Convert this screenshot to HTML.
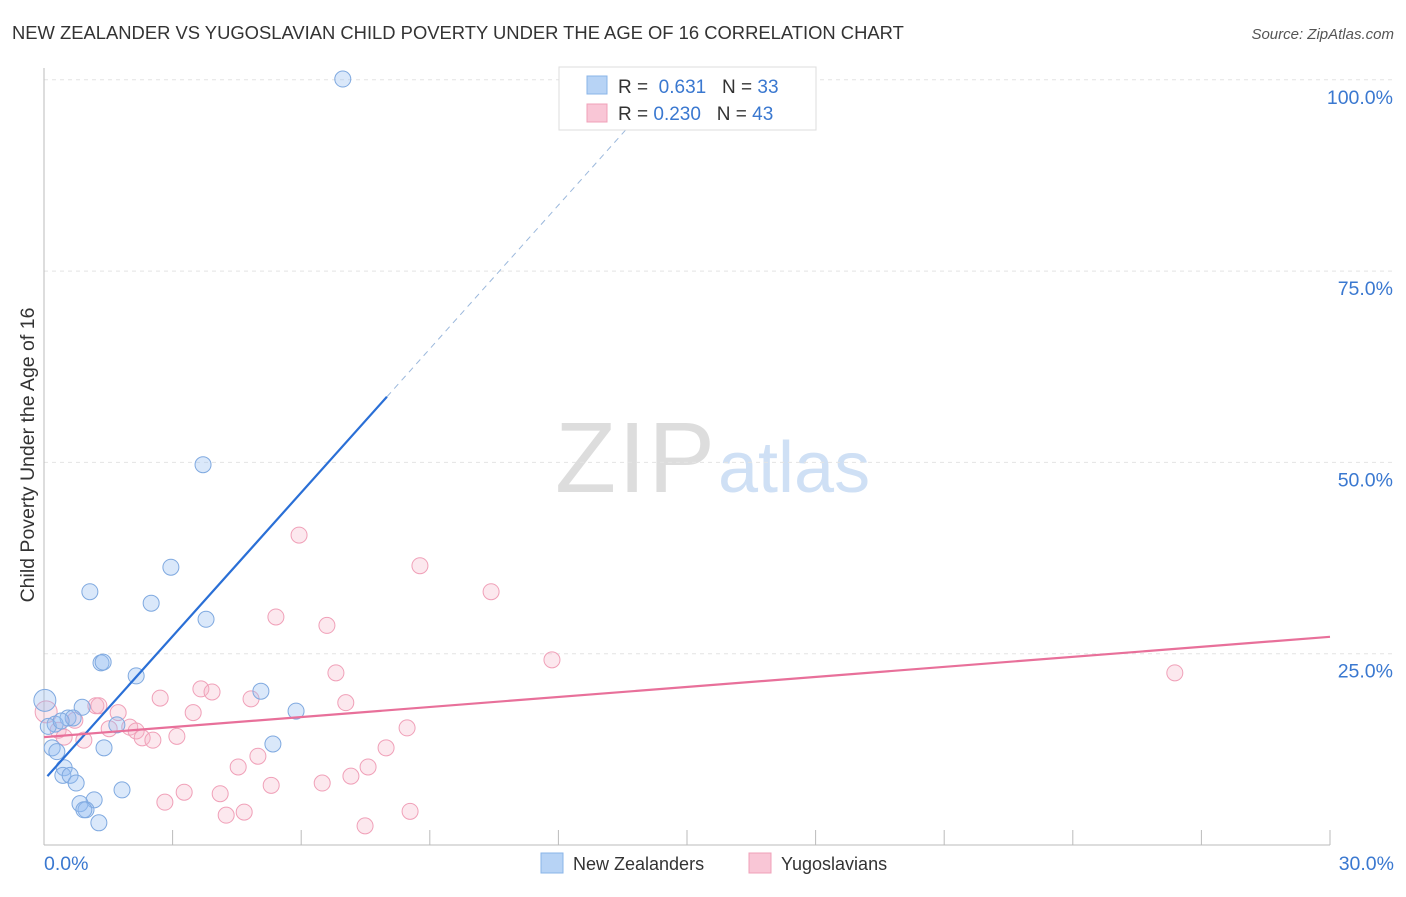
<!DOCTYPE html>
<html><head><meta charset="utf-8"><style>
body{margin:0;background:#fff;font-family:"Liberation Sans",sans-serif;}
svg text{font-family:"Liberation Sans",sans-serif;}
</style></head><body>
<svg id="chart" width="1406" height="892" xmlns="http://www.w3.org/2000/svg">
<text x="12" y="39" font-size="18.4" fill="#333">NEW ZEALANDER VS YUGOSLAVIAN CHILD POVERTY UNDER THE AGE OF 16 CORRELATION CHART</text>
<text x="1394" y="39" font-size="15" fill="#555" font-style="italic" text-anchor="end">Source: ZipAtlas.com</text>
<text x="555" y="492" font-size="100" fill="#ddd" font-family="Liberation Serif" textLength="160">ZIP</text>
<text x="718" y="492" font-size="72" fill="#cfe0f5">atlas</text>
<g id="grid"></g><g id="axes"></g><g id="marks"></g>
<text transform="translate(34,455) rotate(-90)" font-size="19.5" fill="#333" text-anchor="middle">Child Poverty Under the Age of 16</text>
<g>
<rect x="559" y="67" width="257" height="63" fill="#fff" stroke="#ddd"/>
<rect x="587" y="76" width="20" height="18" fill="#b7d3f5" stroke="#8ab4e8"/>
<rect x="587" y="104" width="20" height="18" fill="#f9c6d6" stroke="#f0a0b8"/>
<text x="618" y="93" font-size="19" fill="#333">R = <tspan fill="#3a78d0">&#160;0.631</tspan>&#160;&#160;&#160;N = <tspan fill="#3a78d0">33</tspan></text>
<text x="618" y="120" font-size="19" fill="#333">R = <tspan fill="#3a78d0">0.230</tspan>&#160;&#160;&#160;N = <tspan fill="#3a78d0">43</tspan></text>
</g>
<g>
<rect x="541" y="853" width="22" height="20" fill="#b7d3f5" stroke="#8ab4e8"/>
<text x="573" y="870" font-size="18" fill="#333">New Zealanders</text>
<rect x="749" y="853" width="22" height="20" fill="#f9c6d6" stroke="#f0a0b8"/>
<text x="781" y="870" font-size="18" fill="#333">Yugoslavians</text>
</g>
</svg>
<script>
const xTicks=[0,3,6,9,12,15,18,21,24,27,30];
const yTicks=[25,50,75,100];
const yTickLabels=["25.0%","50.0%","75.0%","100.0%"];
const blueX=[6.97,3.71,2.96,1.07,2.50,3.78,1.33,1.38,2.15,5.06,0.02,0.89,5.88,0.56,0.68,0.26,1.70,0.19,0.30,1.40,5.34,0.47,0.44,0.61,0.75,1.82,1.17,0.84,0.98,0.93,1.28,0.10,0.40];
const blueY=[100.1,49.7,36.3,33.1,31.6,29.5,23.8,23.9,22.1,20.1,18.9,18.0,17.5,16.6,16.6,15.8,15.7,12.7,12.2,12.7,13.2,10.1,9.1,9.1,8.1,7.2,5.9,5.4,4.6,4.6,2.9,15.5,16.2];
const pinkX=[5.95,8.77,10.43,5.41,6.60,11.85,26.38,6.81,3.66,3.92,2.71,4.83,7.04,1.21,1.28,1.73,3.48,0.05,0.72,2.0,1.52,8.47,2.15,0.33,0.47,3.10,2.29,2.54,0.93,7.98,4.99,4.53,7.56,7.16,6.49,5.30,3.27,4.11,2.82,4.67,4.25,8.54,7.49];
const pinkY=[40.5,36.5,33.1,29.8,28.7,24.2,22.5,22.5,20.4,20.0,19.2,19.1,18.6,18.2,18.2,17.3,17.3,17.4,16.3,15.4,15.2,15.3,14.9,15.0,14.1,14.2,14.0,13.7,13.7,12.7,11.6,10.2,10.2,9.0,8.1,7.8,6.9,6.7,5.6,4.3,3.9,4.4,2.5];
const blueLine={b0:8.5,b1:6.26,solidEnd:8.0,dashEnd:14.2};
const pinkLine={b0:14.1,b1:0.437};
const X=v=>44+v/30*1286, Y=v=>845-v/25*191.3;
const NS="http://www.w3.org/2000/svg";
function mk(p,t,a){const e=document.createElementNS(NS,t);for(const k in a)e.setAttribute(k,a[k]);p.appendChild(e);return e;}
const grid=document.getElementById('grid'),axes=document.getElementById('axes'),marks=document.getElementById('marks');
yTicks.forEach((t,i)=>{const g=mk(grid,'line',{x1:44,x2:1394,y1:Y(t),y2:Y(t),stroke:'#e4e4e4','stroke-dasharray':'4,4'});


const l=mk(axes,'text',{x:1393,y:Y(t)+24,'font-size':19.5,fill:'#3a78d0','text-anchor':'end'});l.textContent=yTickLabels[i];

});
const ax=mk(axes,'line',{x1:44,x2:1330,y1:845,y2:845,stroke:'#bbb'});


const ay=mk(axes,'line',{x1:44,x2:44,y1:68,y2:845,stroke:'#bbb'});


xTicks.forEach(t=>{const e=mk(axes,'line',{x1:X(t),x2:X(t),y1:830,y2:845,stroke:'#bbb'});

});
[[0,'0.0%','start',44],[30,'30.0%','end',1394]].forEach(([v,s,a,x])=>{const l=mk(axes,'text',{x:x,y:870,'font-size':19.5,fill:'#3a78d0','text-anchor':a});l.textContent=s;

});
pinkX.forEach((x,i)=>{const c=mk(marks,'circle',{cx:X(x),cy:Y(pinkY[i]),r:i==17?11:8,fill:'rgba(246,178,200,0.3)',stroke:'#f0a0b8','stroke-width':1});

});
blueX.forEach((x,i)=>{const c=mk(marks,'circle',{cx:X(x),cy:Y(blueY[i]),r:i==10?11:8,fill:'rgba(150,190,240,0.35)',stroke:'#7fa9e0','stroke-width':1});

});
const bl=mk(marks,'line',{x1:X(0.08),y1:Y(blueLine.b0+blueLine.b1*0.08),x2:X(blueLine.solidEnd),y2:Y(blueLine.b0+blueLine.b1*blueLine.solidEnd),stroke:'#2a6fd6','stroke-width':2.2});


const bd=mk(marks,'line',{x1:X(blueLine.solidEnd),y1:Y(blueLine.b0+blueLine.b1*blueLine.solidEnd),x2:X(blueLine.dashEnd),y2:Y(blueLine.b0+blueLine.b1*blueLine.dashEnd),stroke:'#9bb8dc','stroke-width':1,'stroke-dasharray':'6,5'});


const pl=mk(marks,'line',{x1:X(0),y1:Y(pinkLine.b0),x2:X(30),y2:Y(pinkLine.b0+pinkLine.b1*30),stroke:'#e8709a','stroke-width':2.2});


</script>
</body></html>
